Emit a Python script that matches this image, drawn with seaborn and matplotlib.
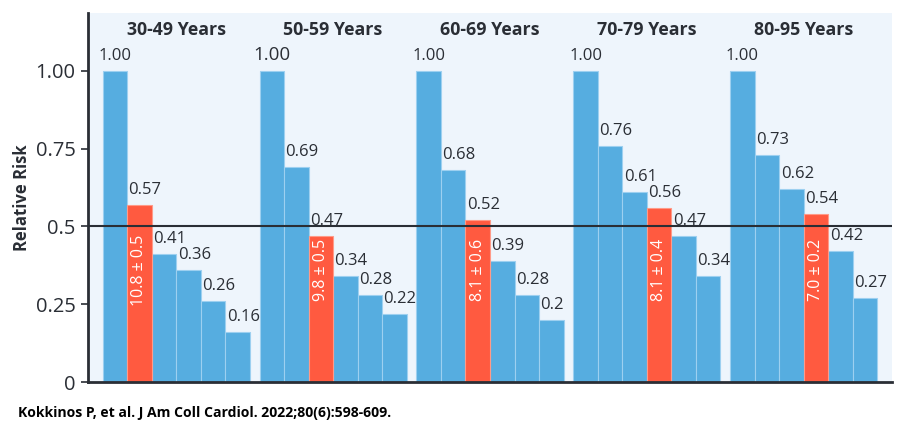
import matplotlib
matplotlib.use("Agg")
import matplotlib.pyplot as plt
import seaborn as sns
import pandas as pd

# Data
age_groups = ["30-49 Years", "50-59 Years", "60-69 Years", "70-79 Years", "80-95 Years"]
rr_30_49 = [1.00, 0.57, 0.41, 0.36, 0.26, 0.16]
rr_50_59 = [1.00, 0.69, 0.47, 0.34, 0.28, 0.22]
rr_60_69 = [1.00, 0.68, 0.52, 0.39, 0.28, 0.20]
rr_70_79 = [1.00, 0.76, 0.61, 0.56, 0.47, 0.34]
rr_80_95 = [1.00, 0.73, 0.62, 0.54, 0.42, 0.27]
labels_30_49 = ["1.00", "0.57", "0.41", "0.36", "0.26", "0.16"]
labels_50_59 = ["1.00", "0.69", "0.47", "0.34", "0.28", "0.22"]
labels_60_69 = ["1.00", "0.68", "0.52", "0.39", "0.28", "0.2"]
labels_70_79 = ["1.00", "0.76", "0.61", "0.56", "0.47", "0.34"]
labels_80_95 = ["1.00", "0.73", "0.62", "0.54", "0.42", "0.27"]
threshold_bar = [1, 2, 2, 3, 3]          # index of the highlighted bar in each group
threshold_text = ["10.8 ± 0.5", "9.8 ± 0.5", "8.1 ± 0.6", "8.1 ± 0.4", "7.0 ± 0.2"]
yticks = [0, 0.25, 0.5, 0.75, 1.00]
ytick_labels = ["0", "0.25", "0.5", "0.75", "1.00"]
source = "Kokkinos P, et al. J Am Coll Cardiol. 2022;80(6):598-609."

series = [rr_30_49, rr_50_59, rr_60_69, rr_70_79, rr_80_95]
labels = [labels_30_49, labels_50_59, labels_60_69, labels_70_79, labels_80_95]

BLUE = "#56ADE0"
RED = "#FF5A40"
DARK = "#2A2E35"
BG = "#EEF5FC"
GROUP_STEP = 6.4

rows = []
for g, vals in enumerate(series):
    for j, v in enumerate(vals):
        rows.append({"pos": g * GROUP_STEP + j, "rr": v,
                     "kind": "red" if j == threshold_bar[g] else "blue",
                     "group": g, "bar": j})
df = pd.DataFrame(rows)

sns.set_style("white")
plt.rcParams["font.family"] = ["Open Sans", "DejaVu Sans"]

fig = plt.figure(figsize=(9.02, 4.34), dpi=100)
ax = fig.add_axes([88 / 902, 52 / 434, 804 / 902, 369 / 434])
ax.set_facecolor(BG)

sns.barplot(data=df, x="pos", y="rr", hue="kind", native_scale=True,
            palette={"blue": BLUE, "red": RED}, dodge=False, width=1.0,
            legend=False, ax=ax, saturation=1)
red_rgb = matplotlib.colors.to_rgb(RED)
for p in ax.patches:
    is_red = tuple(round(c, 3) for c in p.get_facecolor()[:3]) == tuple(round(c, 3) for c in red_rgb)
    p.set_edgecolor("#FF9A88" if is_red else "#9DD0F0")
    p.set_linewidth(0.8)

ax.axhline(0.5, color=DARK, lw=1.5, zorder=5)

for _, r in df.iterrows():
    txt = labels[r["group"]][r["bar"]]
    if r["bar"] == 0:
        size = 13.5 if r["group"] == 1 else 12
        ax.annotate(txt, (r["pos"], r["rr"]), xytext=(0, 5), textcoords="offset points",
                    ha="center", va="bottom", fontsize=size, color=DARK)
    else:
        ax.annotate(txt, (r["pos"] - 0.5, r["rr"]), xytext=(1, 5), textcoords="offset points",
                    ha="left", va="bottom", fontsize=12, color=DARK)

for g in range(len(age_groups)):
    xr = g * GROUP_STEP + threshold_bar[g]
    ax.text(xr, 0.36, threshold_text[g], rotation=90, ha="center", va="center",
            color="white", fontsize=11.5)
    ax.text(g * GROUP_STEP + 2.5, 1.13, age_groups[g], ha="center", va="center",
            fontsize=12.8, fontweight="bold", color=DARK)

ax.set_xlim(-1.1, 4 * GROUP_STEP + 5 + 0.5 + 0.6)
ax.set_ylim(0, 1.186)
ax.set_xticks([])
ax.set_xlabel("")
ax.set_yticks(yticks)
ax.set_yticklabels(ytick_labels, fontsize=14.5, color=DARK)
ax.tick_params(axis="y", direction="out", length=5, width=1.2, color=DARK, left=True, pad=4)
ax.set_ylabel("Relative Risk", fontsize=12, fontweight="bold", color=DARK, labelpad=3)

for s in ["top", "right"]:
    ax.spines[s].set_visible(False)
for s in ["left", "bottom"]:
    ax.spines[s].set_color(DARK)
    ax.spines[s].set_linewidth(2)
    ax.spines[s].set_zorder(6)

fig.text(18 / 902, 1 - 413 / 434, source, ha="left", va="center",
         fontsize=10.1, fontweight="bold", color="black")

fig.savefig("out.png", dpi=100)
